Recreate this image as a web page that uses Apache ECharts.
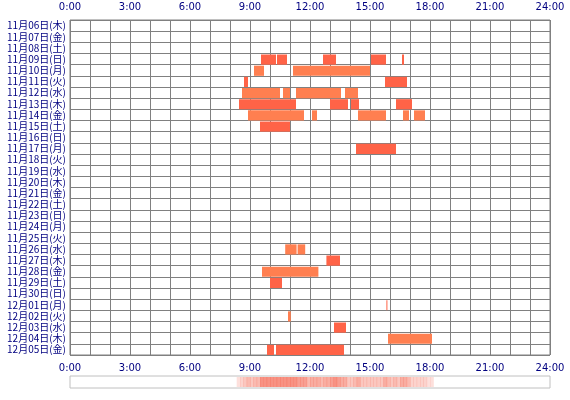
<!DOCTYPE html>
<html><head><meta charset="utf-8">
<script src="https://cdn.jsdelivr.net/npm/echarts@6/dist/echarts.min.js"></script>
<style>html,body{margin:0;padding:0;background:#fff}#c{width:570px;height:400px}</style>
</head><body><div id="c"></div>
<script>
const days = ['11月06日(木)','11月07日(金)','11月08日(土)','11月09日(日)','11月10日(月)','11月11日(火)','11月12日(水)','11月13日(木)','11月14日(金)','11月15日(土)','11月16日(日)','11月17日(月)','11月18日(火)','11月19日(水)','11月20日(木)','11月21日(金)','11月22日(土)','11月23日(日)','11月24日(月)','11月25日(火)','11月26日(水)','11月27日(木)','11月28日(金)','11月29日(土)','11月30日(日)','12月01日(月)','12月02日(火)','12月03日(水)','12月04日(木)','12月05日(金)'];
const xTicks = ['0:00','3:00','6:00','9:00','12:00','15:00','18:00','21:00','24:00'];
// [dayIndex, startHour, endHour]
const segments = [
 [3,9.55,10.3],[3,10.35,10.85],[3,12.65,13.3],[3,15.05,15.8],[3,16.6,16.7],
 [4,9.2,9.7],[4,11.15,15.0],
 [5,8.7,8.9],[5,15.75,16.85],
 [6,8.6,10.5],[6,10.65,11.0],[6,11.3,13.55],[6,13.75,14.4],
 [7,8.45,11.3],[7,13.0,13.9],[7,14.05,14.45],[7,16.3,17.1],
 [8,8.9,11.7],[8,12.1,12.35],[8,14.4,15.8],[8,16.65,16.95],[8,17.2,17.75],
 [9,9.5,11.0],
 [11,14.3,16.3],
 [20,10.76,11.33],[20,11.38,11.76],
 [21,12.82,13.5],
 [22,9.6,12.42],
 [23,10.0,10.05],[23,10.05,10.6],
 [25,15.82,15.85],
 [26,10.9,11.04],
 [27,13.2,13.8],
 [28,15.9,18.1],
 [29,9.85,10.2],[29,10.3,13.7]
];
const colors = ['#ff7f50','#ff6347'];
const bins = [];
for (let i=0;i<144;i++){
  const a=i/6,b=(i+1)/6; let c=0;
  segments.forEach(s=>{ if(s[1]<b && s[2]>a) c++; });
  if(c>0) bins.push([a,b,c]);
}
const lab = {color:'#000080',fontSize:10,fontFamily:'Noto Sans CJK JP'};
const chart = echarts.init(document.getElementById('c'));
chart.setOption({
  animation:false,
  grid:[{left:70,right:20,top:20,bottom:45,show:true,borderColor:'#808080',borderWidth:1,outerBoundsMode:'none',containLabel:false},
        {left:70,right:20,top:376,height:12,show:true,borderColor:'#c0c0c0',borderWidth:1,outerBoundsMode:'none'}],
  xAxis:[
   {gridIndex:0,type:'value',min:0,max:24,interval:1,position:'bottom',
    axisLine:{show:false},axisTick:{show:false},
    axisLabel:Object.assign({},lab,{fontFamily:'DejaVu Sans',formatter:v=>v%3===0?xTicks[v/3]:''}),
    splitLine:{lineStyle:{color:'#808080',width:1}}},
   {gridIndex:0,type:'value',min:0,max:24,interval:1,position:'top',
    axisLine:{show:false},axisTick:{show:false},
    axisLabel:Object.assign({},lab,{fontFamily:'DejaVu Sans',formatter:v=>v%3===0?xTicks[v/3]:''}),
    splitLine:{show:false}},
   {gridIndex:1,type:'value',min:0,max:24,show:false}
  ],
  yAxis:[
   {gridIndex:0,type:'category',data:days,inverse:true,
    axisLine:{show:false},axisTick:{show:false},axisLabel:Object.assign({},lab,{margin:4,interval:0}),
    splitLine:{show:true,interval:0,lineStyle:{color:'#808080',width:1}}},
   {gridIndex:1,type:'value',min:0,max:1,show:false}
  ],
  series:[
   {type:'custom',xAxisIndex:0,yAxisIndex:0,data:segments,
    encode:{x:[1,2],y:0},
    renderItem:(p,api)=>{
      const d=api.value(0);
      const s=api.coord([api.value(1),d]), e=api.coord([api.value(2),d]);
      const h=api.size([0,1])[1];
      return {type:'rect',shape:{x:s[0],y:s[1]-h/2+1,width:Math.max(1,e[0]-s[0]),height:h-1},
              style:{fill:colors[d%2]}};
    }},
   {type:'custom',xAxisIndex:2,yAxisIndex:1,data:bins,encode:{x:[0,1]},
    renderItem:(p,api)=>{
      const s=api.coord([api.value(0),1]), e=api.coord([api.value(1),0]);
      const c=api.value(2);
      return {type:'rect',shape:{x:s[0],y:s[1]+1,width:e[0]-s[0]+0.5,height:e[1]-s[1]-2},
              style:{fill:'rgba(245,110,90,'+Math.min(0.75,0.12+c*0.09)+')'}};
    }}
  ]
});
</script></body></html>
